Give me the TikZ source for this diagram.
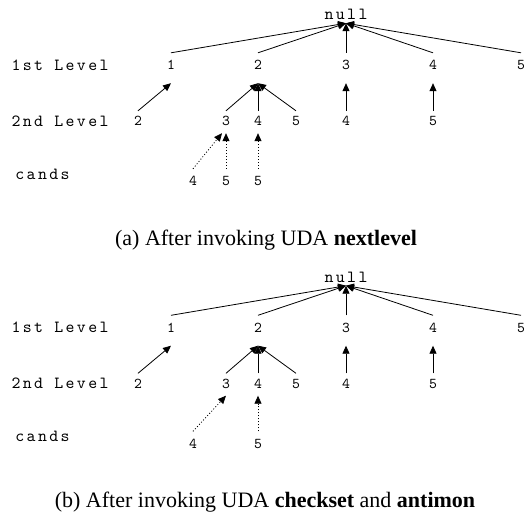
\documentclass[tikz,border=0pt]{standalone}
\usepackage{fontspec}
\setmainfont{Liberation Serif}
\newfontfamily\tyfont[Extension=.otf,LetterSpace=14]{lmmono10-regular}
\newfontfamily\digfont[Extension=.otf]{lmmono10-regular}
\usetikzlibrary{arrows.meta}
\tikzset{
  lbl/.style={font=\fontsize{17}{20}\tyfont, inner sep=0pt},
  nullnode/.style={font=\fontsize{17}{20}\tyfont, inner sep=0pt, text height=11pt, text depth=0pt, minimum height=18pt},
  dig/.style={font=\fontsize{15}{18}\digfont, inner sep=0pt, text height=9pt, text depth=0pt, minimum height=24pt},
  captext/.style={font=\fontsize{22}{26}\selectfont, inner sep=0pt, anchor=base},
  arr/.style={line width=0.8pt, -{Triangle[length=8pt,width=7pt]}},
  dotarr/.style={arr, dash pattern=on 1pt off 2pt},
}
\begin{document}
\begin{tikzpicture}[x=1pt,y=-1pt]
\useasboundingbox (0,0) rectangle (524,512);
\clip (0,0) rectangle (524,512);
% ---------------- panel (a) ----------------
\node[nullnode] (an) at (346,14) {null};
\node[lbl] (al1) at (60,65) {1st Level};
\node[lbl] (al2) at (60,121) {2nd Level};
\node[lbl] (al3) at (42.5,174) {cands};
\node[dig] (ap1) at (171,65) {1};
\node[dig] (ap2) at (258,65) {2};
\node[dig] (ap3) at (346,65) {3};
\node[dig] (ap4) at (433,65) {4};
\node[dig] (ap5) at (521,65) {5};
\node[dig] (aq12) at (138,121) {2};
\node[dig] (aq23) at (226,121) {3};
\node[dig] (aq24) at (258,121) {4};
\node[dig] (aq25) at (296,121) {5};
\node[dig] (aq34) at (346,121) {4};
\node[dig] (aq45) at (433,121) {5};
\node[dig] (ac234) at (193,181) {4};
\node[dig] (ac235) at (226,181) {5};
\node[dig] (ac245) at (258,181) {5};
\foreach \p in {ap1,ap2,ap3,ap4,ap5} \draw[arr] (\p.north) -- (an.south);
\draw[arr] ([yshift=-2pt]aq12.north) -- ([yshift=-6pt]ap1.south);
\draw[arr] ([yshift=-2pt]aq23.north) -- ([yshift=-6pt]ap2.south);
\draw[arr] ([yshift=-2pt]aq24.north) -- ([yshift=-6pt]ap2.south);
\draw[arr] ([yshift=-2pt]aq25.north) -- ([yshift=-6pt]ap2.south);
\draw[arr] ([yshift=-2pt]aq34.north) -- ([yshift=-6pt]ap3.south);
\draw[arr] ([yshift=-2pt]aq45.north) -- ([yshift=-6pt]ap4.south);
\draw[dotarr] (ac234.north) -- ([xshift=-4pt]aq23.south);
\draw[dotarr] (ac235.north) -- (aq23.south);
\draw[dotarr] (ac245.north) -- (aq24.south);
\node[captext] (capa) at (266,245) {(a) After invoking UDA \textbf{nextlevel}};
% ---------------- panel (b) ----------------
\begin{scope}[yshift=-262.5pt]
\node[nullnode] (bn) at (346,14) {null};
\node[lbl] (bl1) at (60,65) {1st Level};
\node[lbl] (bl2) at (60,121) {2nd Level};
\node[lbl] (bl3) at (42.5,174) {cands};
\node[dig] (bp1) at (171,65) {1};
\node[dig] (bp2) at (258,65) {2};
\node[dig] (bp3) at (346,65) {3};
\node[dig] (bp4) at (433,65) {4};
\node[dig] (bp5) at (521,65) {5};
\node[dig] (bq12) at (138,121) {2};
\node[dig] (bq23) at (226,121) {3};
\node[dig] (bq24) at (258,121) {4};
\node[dig] (bq25) at (296,121) {5};
\node[dig] (bq34) at (346,121) {4};
\node[dig] (bq45) at (433,121) {5};
\node[dig] (bc234) at (193,181) {4};
\node[dig] (bc245) at (258,181) {5};
\foreach \p in {bp1,bp2,bp3,bp4,bp5} \draw[arr] (\p.north) -- (bn.south);
\draw[arr] ([yshift=-2pt]bq12.north) -- ([yshift=-6pt]bp1.south);
\draw[arr] ([yshift=-2pt]bq23.north) -- ([yshift=-6pt]bp2.south);
\draw[arr] ([yshift=-2pt]bq24.north) -- ([yshift=-6pt]bp2.south);
\draw[arr] ([yshift=-2pt]bq25.north) -- ([yshift=-6pt]bp2.south);
\draw[arr] ([yshift=-2pt]bq34.north) -- ([yshift=-6pt]bp3.south);
\draw[arr] ([yshift=-2pt]bq45.north) -- ([yshift=-6pt]bp4.south);
\draw[dotarr] (bc234.north) -- (bq23.south);
\draw[dotarr] (bc245.north) -- (bq24.south);
\node[captext] (capb) at (265,244.5) {(b) After invoking UDA \textbf{checkset} and \textbf{antimon}};
\end{scope}
\end{tikzpicture}
\end{document}
